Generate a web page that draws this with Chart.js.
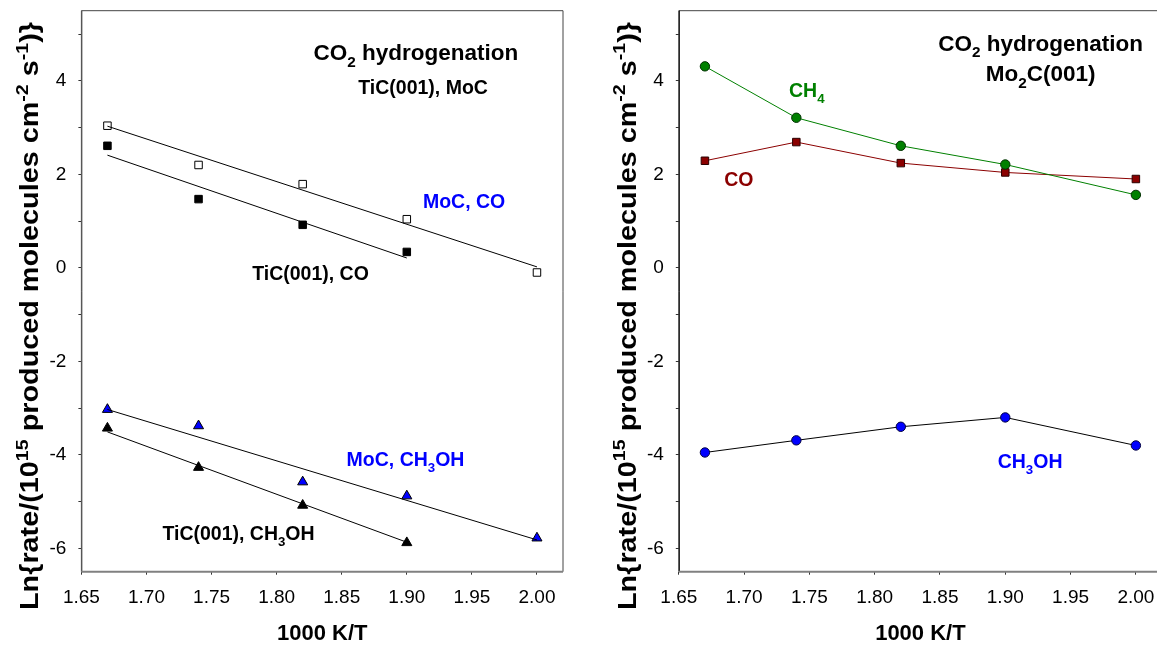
<!DOCTYPE html>
<html>
<head>
<meta charset="utf-8">
<script src="https://cdn.jsdelivr.net/npm/chart.js@4.4.1/dist/chart.umd.min.js"></script>
<style>
    html, body { margin: 0; padding: 0; background: #fff; overflow: hidden; width: 1157px; height: 645px; }
    #leftWrap { position: absolute; left: 0; top: 0; width: 580px; height: 645px; }
    #rightWrap { position: absolute; left: 580px; top: 0; width: 600px; height: 645px; }
</style>
</head>
<body>
<div id="leftWrap"><canvas id="leftChart" width="580" height="645"></canvas></div>
<div id="rightWrap"><canvas id="rightChart" width="600" height="645"></canvas></div>
<script>
// axis ticks
const xTicks = [1.65, 1.70, 1.75, 1.80, 1.85, 1.90, 1.95, 2.00];
const yMajorTicks = [-6, -4, -2, 0, 2, 4];
const yMinorTicks = [-5, -3, -1, 1, 3, 5];

// 1000 K/T
const invT = [1.67, 1.74, 1.82, 1.90, 2.00];

// left panel: TiC(001) and MoC
const mocCO = [3.04, 2.20, 1.79, 1.04, -0.10];
const ticCO = [2.61, 1.47, 0.92, 0.34];
const mocCH3OH = [-3.03, -3.38, -4.58, -4.88, -5.78];
const ticCH3OH = [-3.43, -4.27, -5.08, -5.88];

// fitted lines (end points)
const fitXLong = [1.67, 2.00];
const fitXShort = [1.67, 1.90];
const mocCOFit = [3.03, 0.02];
const ticCOFit = [2.41, 0.21];
const mocCH3OHFit = [-3.03, -5.82];
const ticCH3OHFit = [-3.51, -5.87];

// right panel: Mo2C(001)
const mo2cCH4 = [4.31, 3.21, 2.61, 2.21, 1.56];
const mo2cCO = [2.29, 2.69, 2.24, 2.04, 1.90];
const mo2cCH3OH = [-3.95, -3.69, -3.40, -3.20, -3.80];

const FONT = '"Liberation Sans", Arial, Helvetica, sans-serif';
const yTitleParts = [['Ln{rate/(10'], ['15', 'sup'], [' produced molecules cm'], ['-2', 'sup'], [' s'], ['-1', 'sup'], [')}']];

const pts = (xs, ys) => ys.map((y, i) => ({ x: xs[i], y }));

// draws text made of normal / sub / sup parts, starting at x with the given baseline
const drawRich = (ctx, parts, x, baseline, size, color) => {
    const fontFor = (p) => `bold ${p[1] ? size * 0.68 : size}px ${FONT}`;
    ctx.fillStyle = color;
    ctx.textAlign = 'left';
    ctx.textBaseline = 'alphabetic';
    parts.forEach((p) => {
        ctx.font = fontFor(p);
        let dy = 0;
        if (p[1] === 'sub') dy = size * 0.3;
        if (p[1] === 'sup') dy = -size * 0.42;
        ctx.fillText(p[0], x, baseline + dy);
        x += ctx.measureText(p[0]).width;
    });
};

const richWidth = (ctx, parts, size) => parts.reduce((w, p) => {
    ctx.font = `bold ${p[1] ? size * 0.68 : size}px ${FONT}`;
    return w + ctx.measureText(p[0]).width;
}, 0);

const makeDecor = (cfg) => ({
    id: 'decor',
    beforeDatasetsDraw(chart) {
        const { ctx, chartArea: a } = chart;
        ctx.save();
        ctx.lineWidth = 1;
        ctx.strokeStyle = cfg.frameColor;
        ctx.beginPath();
        ctx.moveTo(a.left, a.bottom);
        ctx.lineTo(a.left, a.top);
        ctx.lineTo(a.right, a.top);
        ctx.lineTo(a.right, a.bottom);
        ctx.stroke();
        ctx.strokeStyle = cfg.leftColor;
        ctx.beginPath();
        ctx.moveTo(a.left + 0.5, a.top);
        ctx.lineTo(a.left + 0.5, a.bottom);
        ctx.stroke();
        ctx.lineWidth = 2;
        ctx.strokeStyle = '#808080';
        ctx.beginPath();
        ctx.moveTo(a.left, a.bottom);
        ctx.lineTo(a.right, a.bottom);
        ctx.stroke();
        ctx.restore();
    },
    afterDatasetsDraw(chart) {
        const { ctx, chartArea: a, scales } = chart;
        ctx.save();
        cfg.labels.forEach((l) => {
            const w = richWidth(ctx, l.parts, l.size);
            const cx = scales.x.getPixelForValue(l.x);
            const cy = scales.y.getPixelForValue(l.y);
            drawRich(ctx, l.parts, cx - w / 2, cy + l.size * 0.36, l.size, l.color);
        });

        // x title
        const xt = [['1000 K/T']];
        const xw = richWidth(ctx, xt, 22);
        drawRich(ctx, xt, (a.left + a.right) / 2 - xw / 2, 640, 22, '#000');

        // y title, stretched along its length
        const ySize = 25;
        const yw = richWidth(ctx, yTitleParts, ySize);
        const stretch = 588 / yw;
        ctx.translate(a.left - 43, 316);
        ctx.rotate(-Math.PI / 2);
        ctx.scale(stretch, 1);
        drawRich(ctx, yTitleParts, -yw / 2, 0, ySize, '#000');
        ctx.restore();
    },
});

const xScale = (max) => ({
    type: 'linear',
    min: 1.65,
    max,
    afterBuildTicks: (axis) => { axis.ticks = xTicks.map((v) => ({ value: v })); },
    afterFit: (s) => {
        s.height = 73.3;
        s.paddingLeft = 0;
        s.paddingRight = 0;
    },
    border: { display: false },
    grid: { drawOnChartArea: false, drawTicks: true, tickLength: 3, color: '#333' },
    ticks: {
        autoSkip: false,
        maxRotation: 0,
        padding: 12,
        color: '#000',
        font: { family: FONT, size: 19 },
        callback: (v) => Number(v).toFixed(2),
    },
});

const yScale = (width) => ({
    type: 'linear',
    min: -6.5,
    max: 5.5,
    afterBuildTicks: (axis) => {
        axis.ticks = [...yMajorTicks, ...yMinorTicks].sort((a, b) => a - b).map((v) => ({ value: v }));
    },
    afterFit: (s) => {
        s.width = width;
        s.paddingTop = 0;
        s.paddingBottom = 0;
    },
    border: { display: false },
    grid: { drawOnChartArea: false, drawTicks: true, tickLength: 3, color: '#333' },
    ticks: {
        autoSkip: false,
        padding: 12,
        color: '#000',
        font: { family: FONT, size: 19 },
        callback: (v) => (yMajorTicks.includes(v) ? String(v) : ''),
    },
});

const baseOptions = (xMax, yWidth, padRight) => ({
    responsive: false,
    animation: false,
    layout: { padding: { left: 0, top: 10.7, right: padRight, bottom: 0 } },
    plugins: { legend: { display: false }, tooltip: { enabled: false } },
    scales: { x: xScale(xMax), y: yScale(yWidth) },
});

const fitLine = (data) => ({
    data,
    showLine: true,
    borderColor: '#000',
    borderWidth: 1,
    pointRadius: 0,
});

const markers = (data, style, fill, radius) => ({
    data,
    showLine: false,
    pointStyle: style,
    pointRadius: radius,
    pointBackgroundColor: fill,
    pointBorderColor: '#000',
    pointBorderWidth: 1,
});

new Chart(document.getElementById('leftChart'), {
    type: 'scatter',
    data: {
        datasets: [
            fitLine(pts(fitXLong, mocCOFit)),
            fitLine(pts(fitXShort, ticCOFit)),
            fitLine(pts(fitXLong, mocCH3OHFit)),
            fitLine(pts(fitXShort, ticCH3OHFit)),
            markers(pts(invT, mocCO), 'rect', '#fff', 5.3),
            markers(pts(invT, ticCO), 'rect', '#000', 5.3),
            markers(pts(invT, mocCH3OH), 'triangle', '#0000ff', 5.8),
            markers(pts(invT, ticCH3OH), 'triangle', '#000', 5.8),
        ],
    },
    options: baseOptions(2.02, 81.4, 17),
    plugins: [makeDecor({
        frameColor: '#444',
        leftColor: '#555',
        labels: [
            { parts: [['CO'], ['2', 'sub'], [' hydrogenation']], x: 1.907, y: 4.61, size: 22.5, color: '#000' },
            { parts: [['TiC(001), MoC']], x: 1.9125, y: 3.87, size: 19.5, color: '#000' },
            { parts: [['MoC, CO']], x: 1.944, y: 1.42, size: 19.5, color: '#0000ff' },
            { parts: [['TiC(001), CO']], x: 1.826, y: -0.12, size: 19.5, color: '#000' },
            { parts: [['MoC, CH'], ['3', 'sub'], ['OH']], x: 1.899, y: -4.09, size: 19.5, color: '#0000ff' },
            { parts: [['TiC(001), CH'], ['3', 'sub'], ['OH']], x: 1.7707, y: -5.67, size: 19.5, color: '#000' },
        ],
    })],
});

new Chart(document.getElementById('rightChart'), {
    type: 'scatter',
    data: {
        datasets: [
            {
                data: pts(invT, mo2cCH4),
                showLine: true,
                borderColor: '#008000',
                borderWidth: 1,
                pointStyle: 'circle',
                pointRadius: 4.7,
                pointBackgroundColor: '#008000',
                pointBorderColor: '#003000',
                pointBorderWidth: 1,
            },
            {
                data: pts(invT, mo2cCO),
                showLine: true,
                borderColor: '#8b0000',
                borderWidth: 1,
                pointStyle: 'rect',
                pointRadius: 5.3,
                pointBackgroundColor: '#8b0000',
                pointBorderColor: '#2a0000',
                pointBorderWidth: 1,
            },
            {
                data: pts(invT, mo2cCH3OH),
                showLine: true,
                borderColor: '#000',
                borderWidth: 1,
                pointStyle: 'circle',
                pointRadius: 4.7,
                pointBackgroundColor: '#0000ff',
                pointBorderColor: '#000040',
                pointBorderWidth: 1,
            },
        ],
    },
    options: baseOptions(2.02, 98.8, 18),
    plugins: [makeDecor({
        frameColor: '#444',
        leftColor: '#000',
        labels: [
            { parts: [['CO'], ['2', 'sub'], [' hydrogenation']], x: 1.927, y: 4.82, size: 22.5, color: '#000' },
            { parts: [['Mo'], ['2', 'sub'], ['C(001)']], x: 1.927, y: 4.16, size: 22.5, color: '#000' },
            { parts: [['CH'], ['4', 'sub']], x: 1.748, y: 3.81, size: 19.5, color: '#008000' },
            { parts: [['CO']], x: 1.696, y: 1.89, size: 19.5, color: '#8b0000' },
            { parts: [['CH'], ['3', 'sub'], ['OH']], x: 1.919, y: -4.14, size: 19.5, color: '#0000ff' },
        ],
    })],
});
</script>
</body>
</html>
